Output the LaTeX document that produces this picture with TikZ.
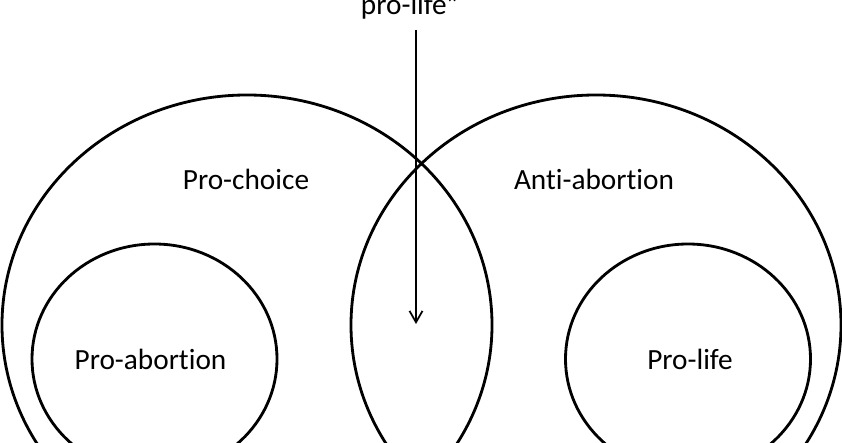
\documentclass[tikz,border=0pt]{standalone}
\usepackage{fontspec}
\setmainfont{Carlito}[Ligatures=NoCommon]
\usepackage{tikz}
\usetikzlibrary{arrows.meta,shapes.geometric}
\tikzset{
  ring/.style={draw=black, line width=2.4pt, ellipse, inner sep=0pt},
  bigring/.style={ring, minimum width=14.7cm, minimum height=13.8cm},
  smallring/.style={ring, minimum width=7.35cm, minimum height=6.9cm},
  lbl/.style={font=\fontsize{25}{30}\selectfont, anchor=base, inner sep=0pt},
  pointer/.style={draw=black, line width=1.5pt, -{Straight Barb[length=3.4mm,width=3.9mm]}}
}
\begin{document}
\begin{tikzpicture}[x=0.03cm, y=-0.03cm]
    \useasboundingbox (0,0) rectangle (842,442);
    \clip (0,0) rectangle (842,442);
    % outer sets
    \node[bigring] (choice) at (247,325){};
    \node[bigring] (anti) at (596,325){};
    % inner sets
    \node[smallring] (abort) at (154.5,359){};
    \node[smallring] (life) at (688,359){};
    % labels
    \node[lbl] (choicetxt) at (246,189){Pro-choice};
    \node[lbl] (antitxt) at (594,189){Anti-abortion};
    \node[lbl] (aborttxt) at (150.5,369){Pro-abortion};
    \node[lbl] (lifetxt) at (690,369){Pro-life};
    \node[lbl, inner sep=0.33cm] (quote) at (410,14){pro-life”};
    % pointer into the overlap
    \coordinate (tip) at (416,324);
    \draw[pointer] (quote.south -| tip) -- (tip);
\end{tikzpicture}
\end{document}
